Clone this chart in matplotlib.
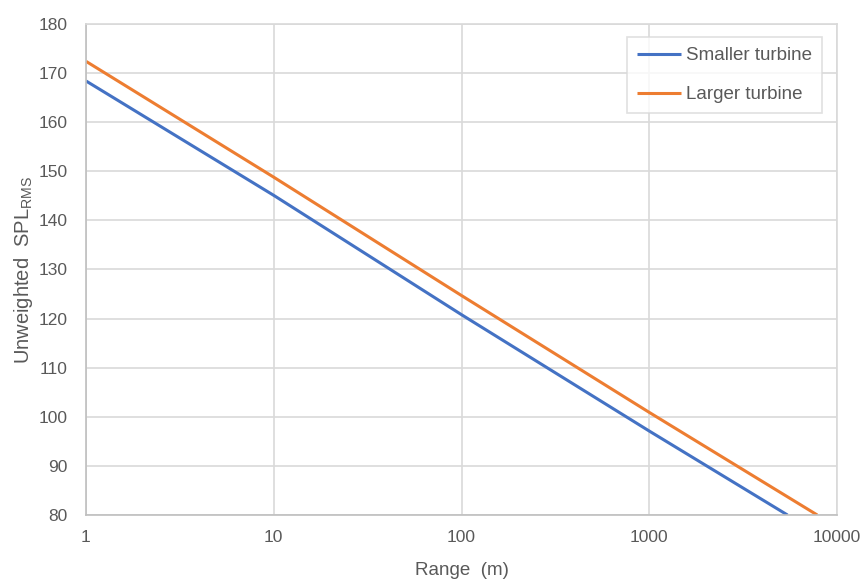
import matplotlib
matplotlib.use("Agg")
import matplotlib.pyplot as plt
from matplotlib.ticker import FixedLocator, FixedFormatter, NullLocator

plt.rcParams['font.family'] = ['Liberation Sans', 'DejaVu Sans']
plt.rcParams['mathtext.fontset'] = 'custom'
plt.rcParams['mathtext.rm'] = 'Liberation Sans'
plt.rcParams['mathtext.it'] = 'Liberation Sans:italic'

# Data
small_range = [1, 10, 100, 1000, 5450]
small_spl = [168.4, 145.1, 120.8, 97.1, 80.0]
large_range = [1, 10, 100, 1000, 7850]
large_spl = [172.4, 148.8, 124.7, 100.9, 80.0]
series_names = ["Smaller turbine", "Larger turbine"]
x_ticks = [1, 10, 100, 1000, 10000]
x_tick_labels = ["1", "10", "100", "1000", "10000"]
y_ticks = [80, 90, 100, 110, 120, 130, 140, 150, 160, 170, 180]

text_color = "#595959"
grid_color = "#D9D9D9"

fig = plt.figure(figsize=(8.64, 5.79), dpi=100)
ax = fig.add_axes([86/864, 1 - 515/579, (837 - 86)/864, (515 - 24)/579])

ax.plot(small_range, small_spl, color="#4472C4", lw=2.2, label=series_names[0], solid_capstyle='butt')
ax.plot(large_range, large_spl, color="#ED7D31", lw=2.2, label=series_names[1], solid_capstyle='butt')

ax.set_xscale('log')
ax.set_xlim(1, 10000)
ax.set_ylim(80, 180)
ax.xaxis.set_major_locator(FixedLocator(x_ticks))
ax.xaxis.set_major_formatter(FixedFormatter(x_tick_labels))
ax.xaxis.set_minor_locator(NullLocator())
ax.set_yticks(y_ticks)

ax.grid(True, color=grid_color, lw=1.2)
ax.set_axisbelow(True)
for s in ['top', 'right']:
    ax.spines[s].set_color(grid_color)
    ax.spines[s].set_linewidth(1.2)
for s in ['left', 'bottom']:
    ax.spines[s].set_color("#BFBFBF")
    ax.spines[s].set_linewidth(1.2)

ax.tick_params(axis='both', length=0, labelsize=12.5, labelcolor=text_color)
ax.tick_params(axis='y', pad=13)
ax.tick_params(axis='x', pad=11)

ax.set_xlabel("Range  (m)", fontsize=13.5, color=text_color, labelpad=12)
ax.set_ylabel("Unweighted  SPL$_{\\mathrm{RMS}}$", fontsize=14.5, color=text_color, labelpad=3)

leg = ax.legend(loc='upper right', fontsize=13.5, frameon=True, fancybox=False,
                edgecolor=grid_color, handlelength=2.35, handletextpad=0.25,
                labelspacing=1.15, borderpad=0.55, borderaxespad=0)
leg.get_frame().set_linewidth(1.2)
for t in leg.get_texts():
    t.set_color(text_color)
leg.set_bbox_to_anchor(((822 - 86)/(837 - 86), 1 - (37 - 24)/(515 - 24)), transform=ax.transAxes)

fig.savefig("out.png", dpi=100)
